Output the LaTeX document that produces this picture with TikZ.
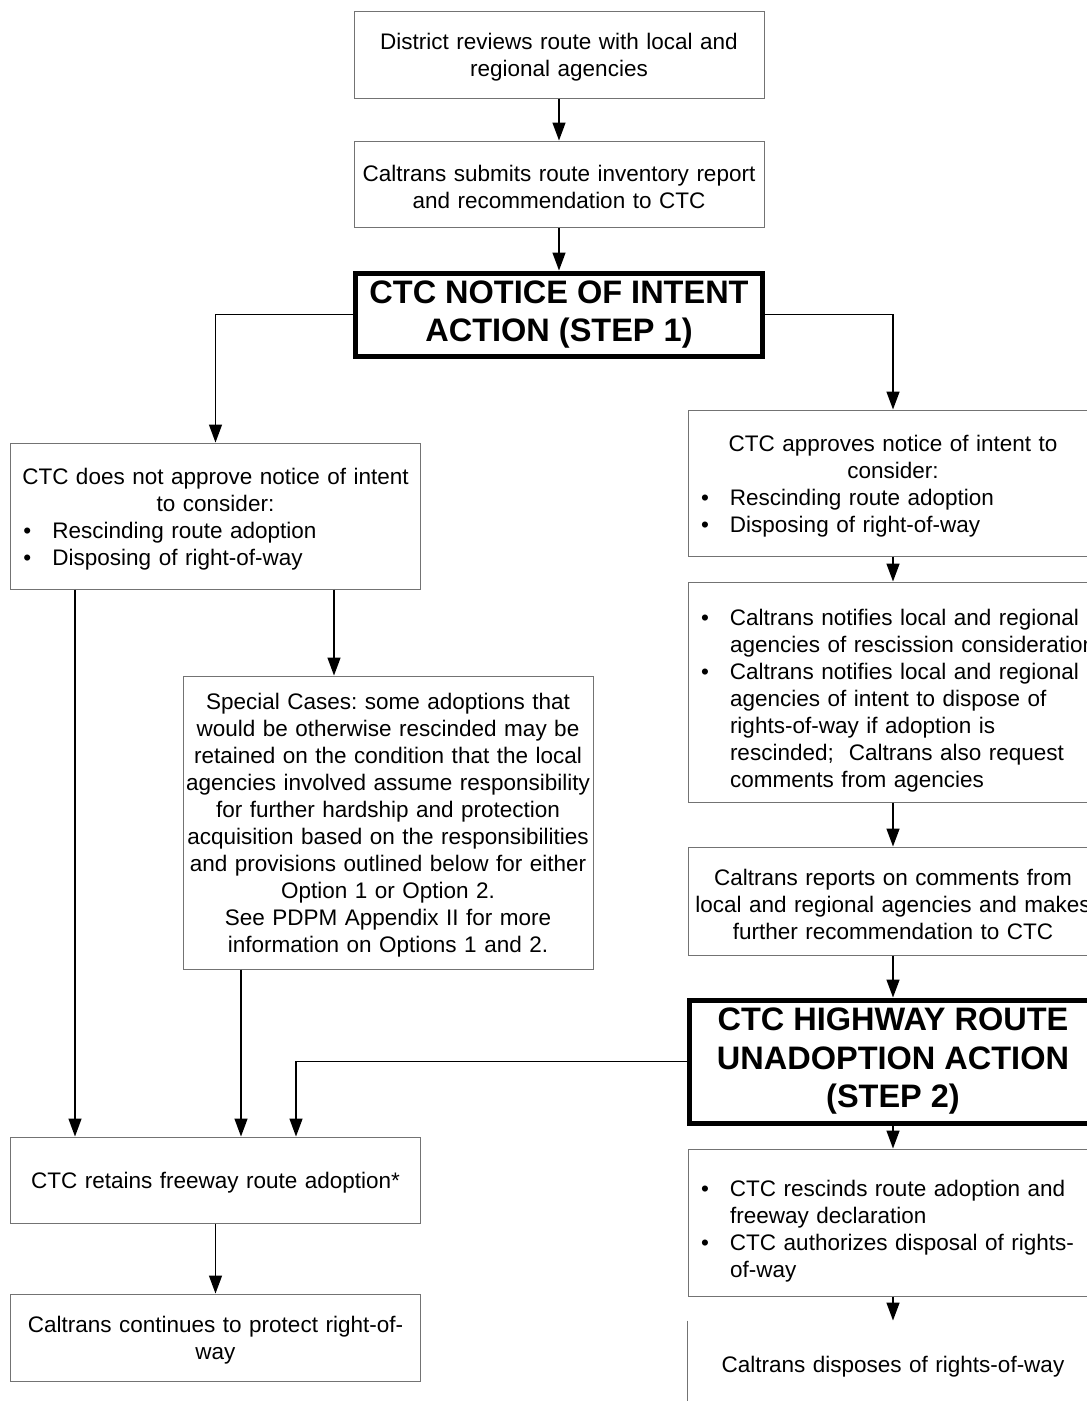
\documentclass[tikz,border=0pt]{standalone}
\usepackage{fontspec}
\setmainfont{Liberation Sans}
\usetikzlibrary{arrows.meta,positioning}
\newcommand{\boxfont}{\fontsize{22.5}{27}\selectfont\frenchspacing}
\newcommand{\titlefont}{\fontsize{32.5}{38.5}\selectfont\bfseries}
\newcommand{\bul}[1]{\par{\let\\\newline\leftskip=28pt\rightskip=-30pt plus 1fil\parfillskip=0pt plus 1fil\hangindent=29pt\hangafter=1\noindent\makebox[29pt][l]{\textbullet}#1\par}}
\tikzset{
      flow/.style      = {black, line width=1.5pt, -{Triangle[length=18pt,width=13pt]}},
      infobox/.style   = {draw=black!55, line width=1pt, text width=440pt, inner xsep=-15pt, inner ysep=0pt, align=center, font=\boxfont,
                          execute at end node={\par\vspace{-6pt}}},
      actionbox/.style = {draw=black, line width=5pt, minimum width=407pt, inner sep=0pt, align=center, font=\titlefont},
    }

\begin{document}
\begin{tikzpicture}[x=1pt, y=1pt, node distance=42pt
    ]
    \useasboundingbox (0,0) rectangle (1087,-1401);
    \clip (0,0) rectangle (1087,-1401);
    \setlength{\parskip}{0pt}

    % centre column
    \node [infobox, minimum height=87pt] (review) at (559,-54.5) {District reviews route with local and\\ regional agencies};
    \node [infobox, minimum height=86pt, below=42pt of review] (submit) {Caltrans submits route inventory report\\ and recommendation to CTC};
    \node [actionbox, minimum height=83pt, below=43pt of submit] (intent) {CTC NOTICE OF INTENT\\ ACTION (STEP 1)};

    % right column
    \node [infobox, minimum height=146pt] (approve) at (893,-483) {CTC approves notice of intent to\\ consider:\bul{Rescinding route adoption}\bul{Disposing of right-of-way}};
    \node [infobox, minimum height=220pt, below=25pt of approve] (notify) {\bul{Caltrans notifies local and regional\\ agencies of rescission consideration}\bul{Caltrans notifies local and regional\\ agencies of intent to dispose of\\ rights-of-way if adoption is\\ rescinded;\ \ Caltrans also request\\ comments from agencies}};
    \node [infobox, minimum height=108pt, below=44pt of notify] (report) {Caltrans reports on comments from\\ local and regional agencies and makes\\ further recommendation to CTC};
    \node [actionbox, minimum height=123pt, below=42pt of report] (unadopt) {CTC HIGHWAY ROUTE\\ UNADOPTION ACTION\\ (STEP 2)};
    \node [infobox, minimum height=147pt, below=23pt of unadopt] (rescind) {\bul{CTC rescinds route adoption and\\ freeway declaration}\bul{CTC authorizes disposal of rights-\\ of-way}};
    \node [infobox, draw=none, minimum height=86pt, below=24pt of rescind] (dispose) {Caltrans disposes of rights-of-way};
    \draw [black!55, line width=1pt] (dispose.north west) -- (dispose.south west);

    % left column
    \node [infobox, minimum height=146pt] (reject) at (215.5,-516) {CTC does not approve notice of intent\\ to consider:\bul{Rescinding route adoption}\bul{Disposing of right-of-way}};
    \node [infobox, minimum height=293pt] (special) at (388,-822.5) {Special Cases: some adoptions that\\ would be otherwise rescinded may be\\ retained on the condition that the local\\ agencies involved assume responsibility\\ for further hardship and protection\\ acquisition based on the responsibilities\\ and provisions outlined below for either\\ Option 1 or Option 2.\\ See PDPM Appendix II for more\\ information on Options 1 and 2.};
    \node [infobox, minimum height=86pt] (retain) at (215.5,-1180) {CTC retains freeway route adoption*};
    \node [infobox, minimum height=87pt, below=70pt of retain] (protect) {Caltrans continues to protect right-of-\\ way};

    \draw [flow] (review) -- (submit);
    \draw [flow] (submit) -- (intent);
    \draw [flow] (intent.west) -| (reject.north);
    \draw [flow] (intent.east) -| (approve.north);
    \draw [flow] (approve) -- (notify);
    \draw [flow] (notify) -- (report);
    \draw [flow] (report) -- (unadopt);
    \draw [flow] (unadopt) -- (rescind);
    \draw [flow] (rescind) -- (dispose);
    \draw [flow] (unadopt.west) -| ([xshift=80.5pt]retain.north);
    \draw [flow] ([xshift=-140.5pt]reject.south) -- ([xshift=-140.5pt]retain.north);
    \draw [flow] ([xshift=118.5pt]reject.south) -- ([xshift=118.5pt]reject.south |- special.north);
    \draw [flow] ([xshift=-147pt]special.south) -- ([xshift=-147pt]special.south |- retain.north);
    \draw [flow] (retain) -- (protect);
\end{tikzpicture}
\end{document}
